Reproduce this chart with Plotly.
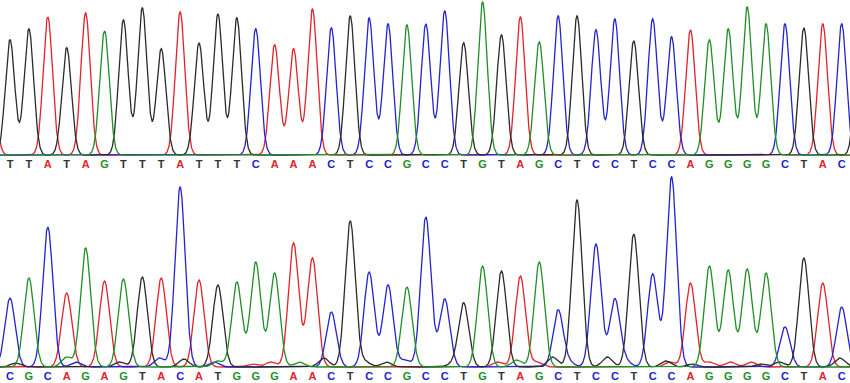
import numpy as np
import plotly.graph_objects as go

# ---- data ----
top_bases = list("TTATAGTTTATTTCAAACTCCGCCTGTAGCTCCTCCAGGGGCTAC")
top_heights = [116, 127, 139, 108, 143, 125, 136, 148, 107, 144, 113, 142, 138, 127, 111,
               107, 147, 128, 140, 138, 132, 131, 132, 145, 113, 154, 121, 139, 114, 140,
               140, 126, 137, 115, 137, 119, 126, 116, 127, 149, 132, 132, 128, 132, 132]
top_edge_bases = ["A", "T"]
top_edge_pos = [-1.0, 45.0]
top_edge_heights = [80, 180]

bottom_bases = list("CGCAGAGTACATGGGAACTCCGCCTGTAGCTCCTCCAGGGGCTAC")
bottom_heights = [69, 89, 140, 74, 119, 86, 88, 90, 89, 180, 87, 82, 85, 105, 94,
                  124, 109, 55, 146, 95, 82, 80, 150, 68, 64, 101, 96, 91, 105, 57,
                  167, 123, 68, 133, 93, 190, 84, 101, 97, 98, 94, 40, 109, 84, 60]
noise_bases = ["T", "G", "C", "T", "C", "T", "G", "C", "A", "A", "G", "T", "T", "T", "C",
               "T", "A", "G", "A", "T", "C", "T", "C", "T", "A", "T", "A", "A", "A", "T",
               "T", "T"]
noise_pos = [0.3, 3.0, 3.5, 5.8, 7.9, 9.2, 11.0, 10.8, 12.8, 13.8, 15.3, 16.6, 18.8, 19.9, 20.9,
             23.4, 25.8, 26.8, 27.9, 28.7, 29.6, 31.6, 32.6, 34.7, 34.9, 36.1, 37.0, 38.1, 39.2,
             39.7, 40.7, 43.9]
noise_heights = [4, 10, 5, 5, 9, 8, 6, 5, 3, 5, 5, 9, 5, 5, 7,
                 3, 5, 7, 5, 10, 4, 10, 5, 6, 5, 3, 5, 5, 5, 3, 5, 9]

channels = ["A", "C", "T", "G"]
line_colors = {"A": "#e3222a", "C": "#2323d2", "T": "#2b2b2b", "G": "#1f8f26"}
text_colors = {"A": "#e3222a", "C": "#2323c8", "T": "#333333", "G": "#1f8f26"}

top_sigma = 0.25
bottom_sigma = 0.27

x = np.linspace(-0.6, 44.6, 3000)


def channel_signal(bases, positions, heights, ch, sigma):
    y = np.zeros_like(x)
    for b, p, h in zip(bases, positions, heights):
        if b == ch:
            y += h * np.exp(-0.5 * ((x - p) / sigma) ** 2)
    return y


fig = go.Figure()

top_pos = list(range(len(top_bases))) + top_edge_pos
top_all_b = top_bases + top_edge_bases
top_all_h = top_heights + top_edge_heights

bot_pos = list(range(len(bottom_bases))) + noise_pos
bot_all_b = bottom_bases + noise_bases
bot_all_h = bottom_heights + noise_heights

for ch in channels:
    fig.add_trace(go.Scatter(x=x, y=channel_signal(top_all_b, top_pos, top_all_h, ch, top_sigma),
                             mode="lines", line=dict(color=line_colors[ch], width=1.3),
                             xaxis="x", yaxis="y", showlegend=False, hoverinfo="skip"))
    fig.add_trace(go.Scatter(x=x, y=channel_signal(bot_all_b, bot_pos, bot_all_h, ch, bottom_sigma),
                             mode="lines", line=dict(color=line_colors[ch], width=1.3),
                             xaxis="x2", yaxis="y2", showlegend=False, hoverinfo="skip"))

fig.add_trace(go.Scatter(x=list(range(len(top_bases))), y=[-10] * len(top_bases), mode="text",
                         text=top_bases, cliponaxis=False,
                         textfont=dict(family="Liberation Sans", size=11, weight="bold",
                                       color=[text_colors[b] for b in top_bases]),
                         xaxis="x", yaxis="y", showlegend=False, hoverinfo="skip"))
fig.add_trace(go.Scatter(x=list(range(len(bottom_bases))), y=[-10] * len(bottom_bases), mode="text",
                         text=bottom_bases, cliponaxis=False,
                         textfont=dict(family="Liberation Sans", size=11, weight="bold",
                                       color=[text_colors[b] for b in bottom_bases]),
                         xaxis="x2", yaxis="y2", showlegend=False, hoverinfo="skip"))

ax = dict(visible=False, showgrid=False, zeroline=False, fixedrange=True)
fig.update_layout(
    width=850, height=383,
    margin=dict(l=0, r=0, t=0, b=0),
    paper_bgcolor="white", plot_bgcolor="white",
    xaxis=dict(range=[-0.529, 44.44], anchor="y", **ax),
    yaxis=dict(range=[-17, 156], domain=[0.5509, 1.0], anchor="x", **ax),
    xaxis2=dict(range=[-0.529, 44.44], anchor="y2", **ax),
    yaxis2=dict(range=[-16, 192], domain=[0.0, 0.5431], anchor="x2", **ax),
)

fig.write_html("out.html", config={"displayModeBar": False},
               post_script="document.body.style.margin='0px';document.body.style.overflow='hidden';")
